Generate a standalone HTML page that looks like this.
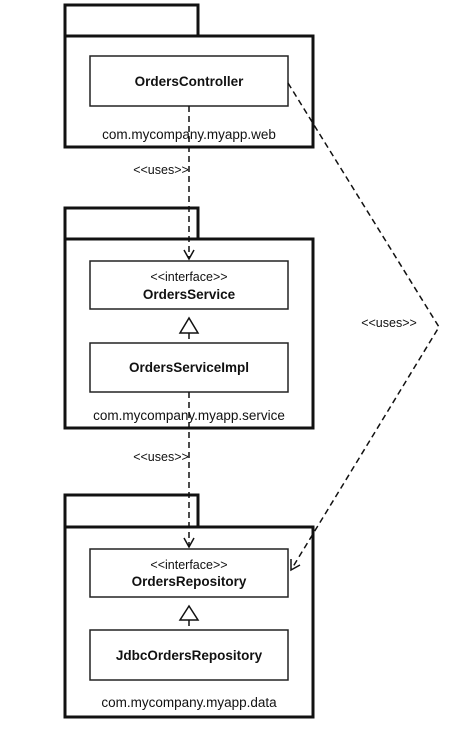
<!DOCTYPE html>
<html><head><style>body{margin:0;background:#fff}svg{display:block}</style></head><body>
<svg width="468" height="733" viewBox="0 0 468 733" xmlns="http://www.w3.org/2000/svg" font-family="Liberation Sans, sans-serif">
<g fill="#fff" stroke="#111" stroke-width="3">
<rect x="65" y="5" width="133" height="31"/><rect x="65" y="36" width="248" height="111"/>
<rect x="65" y="208" width="133" height="31"/><rect x="65" y="239" width="248" height="189"/>
<rect x="65" y="495" width="133" height="32"/><rect x="65" y="527" width="248" height="190"/>
</g>
<g fill="#fff" stroke="#222" stroke-width="1.5">
<rect x="90" y="56" width="198" height="50"/>
<rect x="90" y="261" width="198" height="48"/>
<rect x="90" y="343" width="198" height="49"/>
<rect x="90" y="549" width="198" height="48"/>
<rect x="90" y="630" width="198" height="50"/>
</g>
<g stroke="#111" stroke-width="1.5" fill="none" stroke-dasharray="6,4">
<line x1="189" y1="106" x2="189" y2="259"/>
<line x1="189" y1="392" x2="189" y2="547"/>
<line x1="189" y1="333" x2="189" y2="343"/>
<line x1="189" y1="620" x2="189" y2="630"/>
<polyline points="288,83 439,327 291,570"/>
</g>
<g stroke="#111" stroke-width="1.5" fill="none">
<polyline points="184,250 189,259 194,250"/>
<polyline points="184,538 189,547 194,538"/>
<polyline points="291,559 291,570 300,565"/>
</g>
<g stroke="#111" stroke-width="1.5" fill="#fff">
<polygon points="189,318 180,333 198,333"/>
<polygon points="189,606 180,620 198,620"/>
</g>
<g font-size="13.5" text-anchor="middle" fill="#111">
<text x="189" y="86" font-weight="bold">OrdersController</text>
<text x="189" y="139">com.mycompany.myapp.web</text>
<text x="189" y="281" font-size="12.5">&lt;&lt;interface&gt;&gt;</text>
<text x="189" y="299" font-weight="bold">OrdersService</text>
<text x="189" y="372" font-weight="bold">OrdersServiceImpl</text>
<text x="189" y="420">com.mycompany.myapp.service</text>
<text x="189" y="569" font-size="12.5">&lt;&lt;interface&gt;&gt;</text>
<text x="189" y="586" font-weight="bold">OrdersRepository</text>
<text x="189" y="660" font-weight="bold">JdbcOrdersRepository</text>
<text x="189" y="707">com.mycompany.myapp.data</text>
<text x="161" y="174" font-size="12.5">&lt;&lt;uses&gt;&gt;</text>
<text x="161" y="461" font-size="12.5">&lt;&lt;uses&gt;&gt;</text>
<text x="389" y="327" font-size="12.5">&lt;&lt;uses&gt;&gt;</text>
</g>
</svg>
</body></html>
